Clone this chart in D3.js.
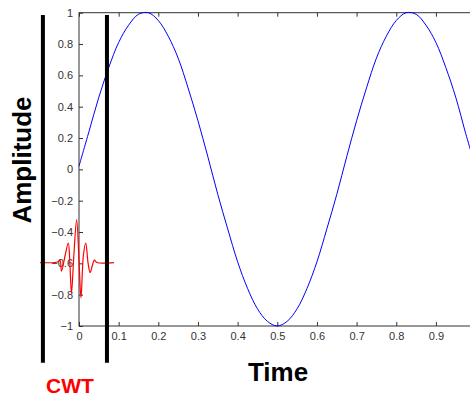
<!DOCTYPE html>
<html lang="en">
<head>
    <meta charset="UTF-8">
    <script src="https://cdn.jsdelivr.net/npm/d3@7"></script>
    <title>CWT</title>
    <style>
        body { margin: 0; background: #fff; }
        svg { display: block; }
        .tick text { font-family: "Liberation Sans", Arial, sans-serif; font-size: 11px; fill: #333; }
    </style>
</head>
<body>
<script>
    // signal: time (s) and amplitude
    var sineT = [0, 0.025, 0.05, 0.075, 0.1, 0.125, 0.15, 0.175, 0.2, 0.225, 0.25, 0.275, 0.3,
        0.325, 0.35, 0.375, 0.4, 0.425, 0.45, 0.475, 0.5, 0.525, 0.55, 0.575, 0.6, 0.625, 0.65,
        0.675, 0.7, 0.725, 0.75, 0.775, 0.8, 0.825, 0.85, 0.875, 0.9, 0.925, 0.95, 0.975, 0.99];
    var sineA = [0.02, 0.24, 0.46, 0.65, 0.81, 0.92, 0.99, 1.0, 0.95, 0.85, 0.71, 0.52, 0.31,
        0.08, -0.16, -0.38, -0.59, -0.76, -0.89, -0.97, -1.0, -0.97, -0.89, -0.76, -0.59, -0.38, -0.16,
        0.08, 0.31, 0.52, 0.71, 0.85, 0.95, 1.0, 0.99, 0.92, 0.81, 0.65, 0.46, 0.23, 0.1];

    // wavelet drawn at the left of the plot
    var waveletT = [-0.098, -0.061, -0.053, -0.048, -0.044, -0.035, -0.027, -0.023, -0.019, -0.013,
        -0.006, 0, 0.005, 0.011, 0.017, 0.023, 0.028, 0.033, 0.039, 0.045, 0.088];
    var waveletA = [-0.595, -0.595, -0.59, -0.58, -0.65, -0.55, -0.47, -0.6, -0.79, -0.55,
        -0.32, -0.58, -0.82, -0.55, -0.47, -0.6, -0.66, -0.62, -0.58, -0.595, -0.595];

    // window edges (time) and their vertical extent (amplitude units)
    var windowEdges = [-0.091, 0.0705];
    var windowSpan = [0.985, -1.235];

    var xTicks = [0, 0.1, 0.2, 0.3, 0.4, 0.5, 0.6, 0.7, 0.8, 0.9];
    var yTicks = [-1, -0.8, -0.6, -0.4, -0.2, 0, 0.2, 0.4, 0.6, 0.8, 1];

    var width = 470, height = 396;

    var svg = d3.select("body").append("svg")
        .attr("width", width)
        .attr("height", height);

    var x = d3.scaleLinear().domain([0, 0.99]).range([79, 471.6]);
    var y = d3.scaleLinear().domain([-1, 1]).range([326, 12.7]);

    // axes box
    svg.append("rect")
        .attr("x", x(0)).attr("y", y(1))
        .attr("width", x(0.99) - x(0)).attr("height", y(-1) - y(1))
        .attr("fill", "none").attr("stroke", "#333").attr("stroke-width", 1);

    var fmt = function(d){ return d3.format("")(+d.toFixed(1)); };

    var xAxis = d3.axisBottom(x).tickValues(xTicks).tickSizeInner(-4).tickSizeOuter(0).tickPadding(6).tickFormat(fmt);
    var gx = svg.append("g").attr("transform", "translate(0," + y(-1) + ")").call(xAxis);

    var xTop = d3.axisTop(x).tickValues(xTicks).tickSizeInner(-4).tickSizeOuter(0).tickFormat("");
    var gxt = svg.append("g").attr("transform", "translate(0," + y(1) + ")").call(xTop);

    var yAxis = d3.axisLeft(y).tickValues(yTicks).tickSizeInner(-4).tickSizeOuter(0).tickPadding(6).tickFormat(fmt);
    var gy = svg.append("g").attr("transform", "translate(" + x(0) + ",0)").call(yAxis);

    [gx, gxt, gy].forEach(function(g){
        g.select(".domain").remove();
        g.selectAll(".tick line").attr("stroke", "#333");
    });

    // signal
    var sine = sineT.map(function(t, i){ return [t, sineA[i]]; });
    svg.append("path")
        .datum(sine)
        .attr("fill", "none")
        .attr("stroke", "#0000ff")
        .attr("stroke-width", 1)
        .attr("d", d3.line()
            .x(function(d){ return x(d[0]); })
            .y(function(d){ return y(d[1]); })
            .curve(d3.curveCatmullRom));

    // wavelet
    var wav = waveletT.map(function(t, i){ return [t, waveletA[i]]; });
    svg.append("path")
        .datum(wav)
        .attr("fill", "none")
        .attr("stroke", "#ff0000")
        .attr("stroke-width", 1.2)
        .attr("d", d3.line()
            .x(function(d){ return x(d[0]); })
            .y(function(d){ return y(d[1]); })
            .curve(d3.curveCatmullRom));

    // window bars
    svg.selectAll("line.win")
        .data(windowEdges)
        .enter()
        .append("line")
        .attr("class", "win")
        .attr("x1", function(d){ return x(d); })
        .attr("x2", function(d){ return x(d); })
        .attr("y1", y(windowSpan[0]))
        .attr("y2", y(windowSpan[1]))
        .attr("stroke", "#000")
        .attr("stroke-width", 4);

    // labels
    svg.append("text")
        .attr("transform", "translate(31," + 160 + ") rotate(-90)")
        .attr("text-anchor", "middle")
        .style("font-family", "'Liberation Sans', Arial, sans-serif")
        .style("font-weight", "bold")
        .style("font-size", "26px")
        .text("Amplitude");

    svg.append("text")
        .attr("x", 278).attr("y", 381)
        .attr("text-anchor", "middle")
        .style("font-family", "'Liberation Sans', Arial, sans-serif")
        .style("font-weight", "bold")
        .style("font-size", "26px")
        .text("Time");

    svg.append("text")
        .attr("x", 70).attr("y", 393)
        .attr("text-anchor", "middle")
        .attr("fill", "#ff0000")
        .style("font-family", "'Liberation Sans', Arial, sans-serif")
        .style("font-weight", "bold")
        .style("font-size", "21px")
        .text("CWT");
</script>
</body>
</html>
